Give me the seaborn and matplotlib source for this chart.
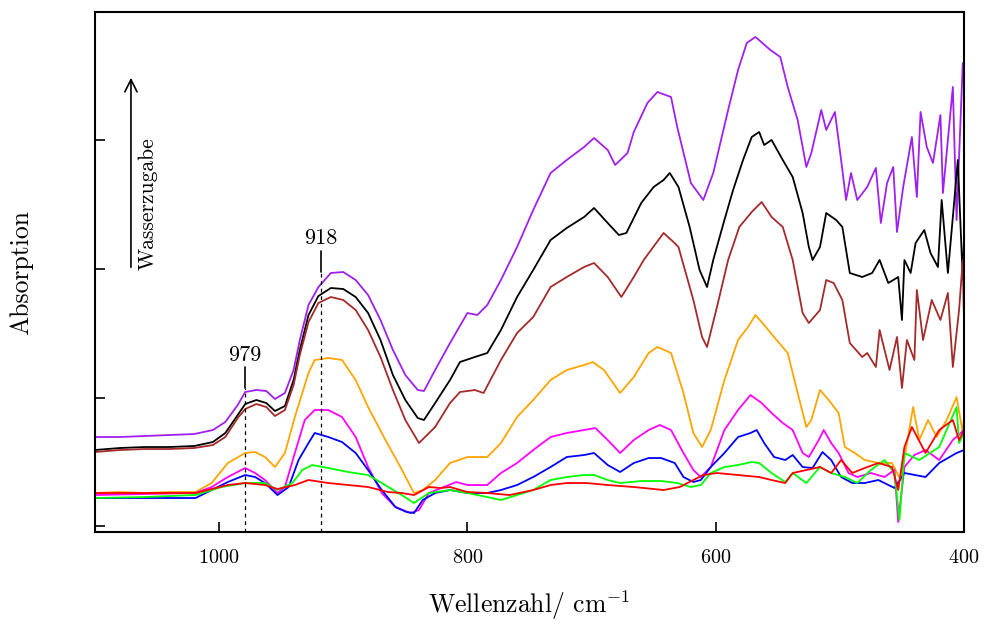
import pandas as pd
import matplotlib
matplotlib.use('Agg')
import matplotlib.pyplot as plt
import seaborn as sns

# wavenumber (cm^-1) and absorbance (arb. units)
purple_w = [1100, 1080, 1060, 1040, 1020, 1005, 995, 985, 979, 970, 962, 955, 947, 940, 935, 928, 920, 910, 900, 890,
            880, 870, 860, 850, 840, 835, 826, 814, 800, 792, 784, 773, 760, 747, 733, 720, 706, 698, 687, 681,
            671, 666, 655, 647, 636, 631, 620, 610, 602, 590, 582, 575, 568, 556, 548, 542, 534, 527, 523, 515,
            511, 504, 499, 495, 491, 486, 478, 471, 467, 462, 457, 454, 449, 442, 438, 435, 430, 425, 419, 417,
            409, 406, 401, 400]
purple_a = [0.95, 0.95, 0.96, 0.97, 0.98, 1.02, 1.10, 1.27, 1.40, 1.42, 1.41, 1.33, 1.39, 1.62, 1.92, 2.27, 2.45, 2.59, 2.60, 2.52,
            2.37, 2.12, 1.82, 1.57, 1.42, 1.41, 1.62, 1.89, 2.19, 2.17, 2.27, 2.52, 2.85, 3.22, 3.59, 3.72, 3.85, 3.94, 3.82, 3.67,
            3.79, 4.00, 4.29, 4.40, 4.35, 4.05, 3.49, 3.32, 3.59, 4.22, 4.62, 4.89, 4.95, 4.82, 4.75, 4.45, 4.12, 3.65, 3.79, 4.22,
            4.02, 4.20, 3.72, 3.32, 3.59, 3.32, 3.45, 3.64, 3.09, 3.49, 3.65, 3.00, 3.45, 3.95, 3.35, 4.20, 3.85, 3.69, 4.17, 3.39,
            4.45, 3.12, 4.69, 4.65]

black_w = [1100, 1080, 1060, 1040, 1020, 1005, 995, 985, 979, 970, 962, 955, 947, 940, 935, 928, 920, 910, 900, 890,
           880, 870, 860, 850, 840, 835, 826, 814, 806, 794, 784, 773, 760, 747, 733, 720, 706, 698, 687, 678,
           672, 660, 650, 642, 637, 630, 621, 613, 607, 602, 593, 586, 578, 571, 565, 561, 555, 546, 538, 530,
           525, 522, 516, 511, 503, 498, 492, 482, 474, 468, 461, 453, 450, 448, 443, 439, 432, 427, 421, 418,
           413, 409, 405, 401, 400]
black_a = [0.82, 0.84, 0.85, 0.85, 0.86, 0.90, 0.99, 1.17, 1.28, 1.32, 1.29, 1.21, 1.26, 1.52, 1.82, 2.17, 2.36, 2.44, 2.43, 2.35,
           2.19, 1.92, 1.57, 1.32, 1.14, 1.12, 1.29, 1.52, 1.70, 1.75, 1.79, 2.02, 2.35, 2.62, 2.92, 3.04, 3.15, 3.24, 3.09, 2.97,
           2.99, 3.29, 3.45, 3.52, 3.59, 3.45, 3.05, 2.62, 2.45, 2.72, 3.12, 3.42, 3.72, 3.95, 4.00, 3.87, 3.92, 3.72, 3.55, 3.19,
           2.85, 2.72, 2.85, 3.19, 3.12, 3.05, 2.59, 2.55, 2.59, 2.72, 2.49, 2.55, 2.12, 2.72, 2.59, 2.89, 3.02, 2.79, 2.65, 3.32,
           2.59, 3.15, 3.72, 2.52, 2.95]

brown_w = [1100, 1080, 1060, 1040, 1020, 1005, 995, 985, 979, 970, 962, 955, 947, 940, 935, 928, 920, 910, 900, 890,
           880, 870, 860, 850, 839, 826, 814, 806, 794, 787, 773, 760, 747, 733, 720, 706, 698, 687, 676, 666,
           658, 642, 634, 630, 618, 611, 607, 599, 590, 581, 571, 563, 555, 546, 538, 530, 525, 516, 511, 505,
           498, 492, 482, 478, 471, 468, 460, 454, 450, 446, 440, 438, 433, 426, 419, 413, 409, 404, 401, 400]
brown_a = [0.80, 0.82, 0.83, 0.83, 0.84, 0.87, 0.95, 1.14, 1.23, 1.28, 1.25, 1.16, 1.22, 1.47, 1.77, 2.10, 2.29, 2.35, 2.32, 2.22,
           2.02, 1.75, 1.42, 1.12, 0.89, 1.05, 1.29, 1.40, 1.42, 1.39, 1.72, 1.99, 2.15, 2.45, 2.55, 2.65, 2.69, 2.55, 2.35, 2.55,
           2.72, 2.99, 2.90, 2.85, 2.32, 1.95, 1.85, 2.25, 2.72, 3.05, 3.20, 3.30, 3.15, 3.05, 2.72, 2.19, 2.09, 2.22, 2.52, 2.49,
           2.32, 1.89, 1.75, 1.79, 1.65, 2.02, 1.62, 1.95, 1.44, 1.92, 1.72, 2.42, 1.92, 2.32, 2.12, 2.39, 1.65, 2.22, 2.72, 2.09]

orange_w = [1100, 1080, 1060, 1040, 1019, 1006, 993, 979, 971, 963, 955, 947, 939, 928, 923, 912, 901, 890, 880, 866,
            854, 843, 836, 826, 814, 800, 784, 773, 760, 747, 733, 720, 706, 699, 690, 677, 666, 654, 647, 636,
            626, 618, 611, 604, 593, 582, 574, 568, 561, 553, 542, 534, 527, 523, 516, 509, 501, 496, 488, 480,
            469, 458, 451, 441, 436, 429, 422, 414, 406, 401, 400]
orange_a = [0.39, 0.40, 0.39, 0.40, 0.40, 0.49, 0.69, 0.79, 0.80, 0.75, 0.65, 0.79, 1.15, 1.59, 1.72, 1.74, 1.72, 1.52, 1.25, 0.92,
            0.65, 0.39, 0.42, 0.52, 0.69, 0.75, 0.75, 0.89, 1.15, 1.32, 1.52, 1.62, 1.67, 1.70, 1.62, 1.39, 1.55, 1.79, 1.85, 1.79,
            1.39, 0.99, 0.85, 1.02, 1.52, 1.92, 2.05, 2.17, 2.07, 1.95, 1.79, 1.39, 1.05, 1.12, 1.42, 1.32, 1.19, 0.85, 0.79, 0.72,
            0.69, 0.69, 0.52, 1.25, 0.92, 1.12, 0.95, 1.12, 1.35, 0.99, 1.15]

magenta_w = [1100, 1060, 1019, 1006, 993, 979, 971, 963, 953, 947, 939, 931, 923, 912, 901, 890, 880, 869, 858, 846,
             839, 831, 819, 809, 800, 784, 773, 760, 747, 733, 720, 706, 697, 687, 677, 666, 654, 645, 636, 626,
             618, 612, 604, 593, 582, 572, 563, 555, 546, 538, 530, 525, 517, 513, 507, 501, 493, 486, 475, 464,
             456, 453, 448, 440, 431, 420, 409, 400]
magenta_a = [0.37, 0.38, 0.39, 0.45, 0.55, 0.64, 0.59, 0.52, 0.39, 0.45, 0.79, 1.12, 1.22, 1.22, 1.15, 0.95, 0.65, 0.39, 0.25, 0.19,
             0.22, 0.39, 0.45, 0.50, 0.47, 0.47, 0.59, 0.69, 0.82, 0.95, 0.99, 1.02, 1.04, 0.92, 0.79, 0.92, 1.02, 1.07, 1.02, 0.79,
             0.62, 0.55, 0.65, 1.02, 1.22, 1.37, 1.29, 1.19, 1.09, 1.02, 0.79, 0.75, 0.92, 1.02, 0.89, 0.79, 0.59, 0.55, 0.59, 0.55,
             0.62, 0.10, 0.65, 0.77, 0.82, 0.72, 0.92, 1.02]

blue_w = [1100, 1060, 1019, 1006, 993, 979, 971, 963, 953, 944, 936, 928, 923, 912, 901, 890, 880, 869, 858, 849,
          843, 836, 826, 814, 800, 784, 773, 760, 747, 733, 720, 706, 698, 687, 677, 666, 654, 644, 633, 626,
          618, 612, 604, 593, 582, 572, 567, 561, 553, 544, 538, 530, 522, 514, 507, 499, 490, 480, 469, 456,
          448, 431, 420, 406, 400]
blue_a = [0.34, 0.34, 0.34, 0.42, 0.50, 0.57, 0.55, 0.49, 0.37, 0.45, 0.72, 0.89, 0.99, 0.95, 0.90, 0.79, 0.62, 0.42, 0.25, 0.20,
          0.19, 0.32, 0.39, 0.42, 0.39, 0.39, 0.42, 0.47, 0.55, 0.65, 0.75, 0.77, 0.79, 0.67, 0.60, 0.69, 0.74, 0.74, 0.69, 0.55,
          0.50, 0.52, 0.65, 0.79, 0.95, 0.99, 1.02, 0.89, 0.75, 0.72, 0.77, 0.65, 0.64, 0.80, 0.72, 0.55, 0.49, 0.49, 0.52, 0.44,
          0.59, 0.55, 0.69, 0.79, 0.82]

green_w = [1100, 1060, 1019, 998, 979, 963, 953, 941, 933, 925, 912, 896, 880, 869, 853, 843, 831, 814, 800, 784,
           773, 760, 747, 733, 720, 706, 698, 687, 677, 660, 644, 631, 620, 612, 604, 593, 582, 571, 565, 555,
           544, 538, 527, 516, 507, 496, 486, 475, 464, 456, 452, 448, 436, 420, 406, 404, 400]
green_a = [0.34, 0.35, 0.37, 0.45, 0.49, 0.49, 0.42, 0.49, 0.62, 0.67, 0.64, 0.60, 0.57, 0.49, 0.37, 0.29, 0.39, 0.42, 0.39, 0.35,
           0.32, 0.37, 0.42, 0.52, 0.55, 0.57, 0.57, 0.52, 0.49, 0.51, 0.51, 0.49, 0.45, 0.47, 0.59, 0.65, 0.67, 0.70, 0.69, 0.59,
           0.50, 0.59, 0.49, 0.65, 0.59, 0.55, 0.49, 0.62, 0.72, 0.59, 0.12, 0.79, 0.72, 0.85, 1.25, 0.89, 0.99]

red_w = [1100, 1060, 1019, 993, 979, 963, 953, 939, 928, 912, 896, 880, 864, 853, 843, 831, 821, 814, 800, 784,
         766, 747, 733, 720, 704, 687, 666, 642, 629, 618, 610, 599, 582, 565, 555, 544, 538, 527, 516, 507,
         499, 490, 480, 469, 458, 453, 448, 442, 431, 420, 409, 404, 400]
red_a = [0.39, 0.39, 0.39, 0.47, 0.49, 0.47, 0.43, 0.47, 0.52, 0.49, 0.47, 0.45, 0.40, 0.39, 0.37, 0.45, 0.44, 0.45, 0.40, 0.39,
         0.37, 0.42, 0.47, 0.49, 0.49, 0.47, 0.45, 0.42, 0.45, 0.52, 0.57, 0.59, 0.57, 0.55, 0.52, 0.49, 0.59, 0.62, 0.65, 0.59,
         0.72, 0.59, 0.64, 0.69, 0.65, 0.42, 0.85, 1.05, 0.79, 1.02, 1.12, 0.92, 1.02]

series = {
    'purple': (purple_w, purple_a),
    'black': (black_w, black_a),
    'brown': (brown_w, brown_a),
    'orange': (orange_w, orange_a),
    'magenta': (magenta_w, magenta_a),
    'blue': (blue_w, blue_a),
    'green': (green_w, green_a),
    'red': (red_w, red_a),
}
colors = {'purple': '#a020f0', 'black': '#000000', 'brown': '#a52a2a', 'orange': '#ffa500',
          'magenta': '#ff00ff', 'blue': '#0000ff', 'green': '#00ff00', 'red': '#ff0000'}

frames = []
for name, (w, a) in series.items():
    frames.append(pd.DataFrame({'w': w, 'A': a, 'probe': name}))
df = pd.concat(frames, ignore_index=True)

sns.set_style('ticks')
plt.rcParams['font.family'] = 'serif'
plt.rcParams['font.serif'] = ['cmr10']
plt.rcParams['mathtext.fontset'] = 'cm'
plt.rcParams['axes.formatter.use_mathtext'] = True
plt.rcParams['text.color'] = 'black'
plt.rcParams['axes.labelcolor'] = 'black'
plt.rcParams['xtick.color'] = 'black'
plt.rcParams['ytick.color'] = 'black'
plt.rcParams['axes.edgecolor'] = 'black'

fig = plt.figure(figsize=(9.84, 6.24), dpi=100)
ax = fig.add_axes([0.0965, 0.1474, 0.8832, 0.8334])

sns.lineplot(data=df, x='w', y='A', hue='probe', palette=colors, estimator=None,
             sort=False, legend=False, linewidth=1.3, ax=ax)

ax.set_xlim(1100, 400)
ax.set_ylim(0, 5.20)
ax.set_xticks([1000, 800, 600, 400])
ax.set_yticks([0.06, 1.345, 2.63, 3.915])
ax.set_yticklabels([])
ax.tick_params(direction='in', length=7, width=1.2, labelsize=14.5, pad=12)
for s in ax.spines.values():
    s.set_linewidth(1.5)

ax.set_xlabel('Wellenzahl/ cm$^{-1}$', fontsize=18.5)
ax.set_ylabel('Absorption', fontsize=18.5)
ax.xaxis.set_label_coords(0.5, -0.108)
ax.yaxis.set_label_coords(-0.071, 0.5)

# band markers
for wn, top, label_y in [(979, 1.44, 1.77), (918, 2.60, 2.94)]:
    ax.plot([wn, wn], [0, top], color='black', linestyle=(0, (3, 3)), linewidth=0.9)
    ax.plot([wn, wn], [top, top + 0.21], color='black', linewidth=1.2)
    ax.text(wn, label_y, str(wn), ha='center', va='center', fontsize=16)

# water addition arrow
ax.annotate('', xy=(1071, 4.57), xytext=(1071, 2.62),
            arrowprops=dict(arrowstyle='->', color='black', linewidth=1.2, mutation_scale=22))
ax.text(1057, 2.62, 'Wasserzugabe', rotation=90, ha='center', va='bottom', fontsize=15.5)

fig.savefig('out.png', dpi=100)
